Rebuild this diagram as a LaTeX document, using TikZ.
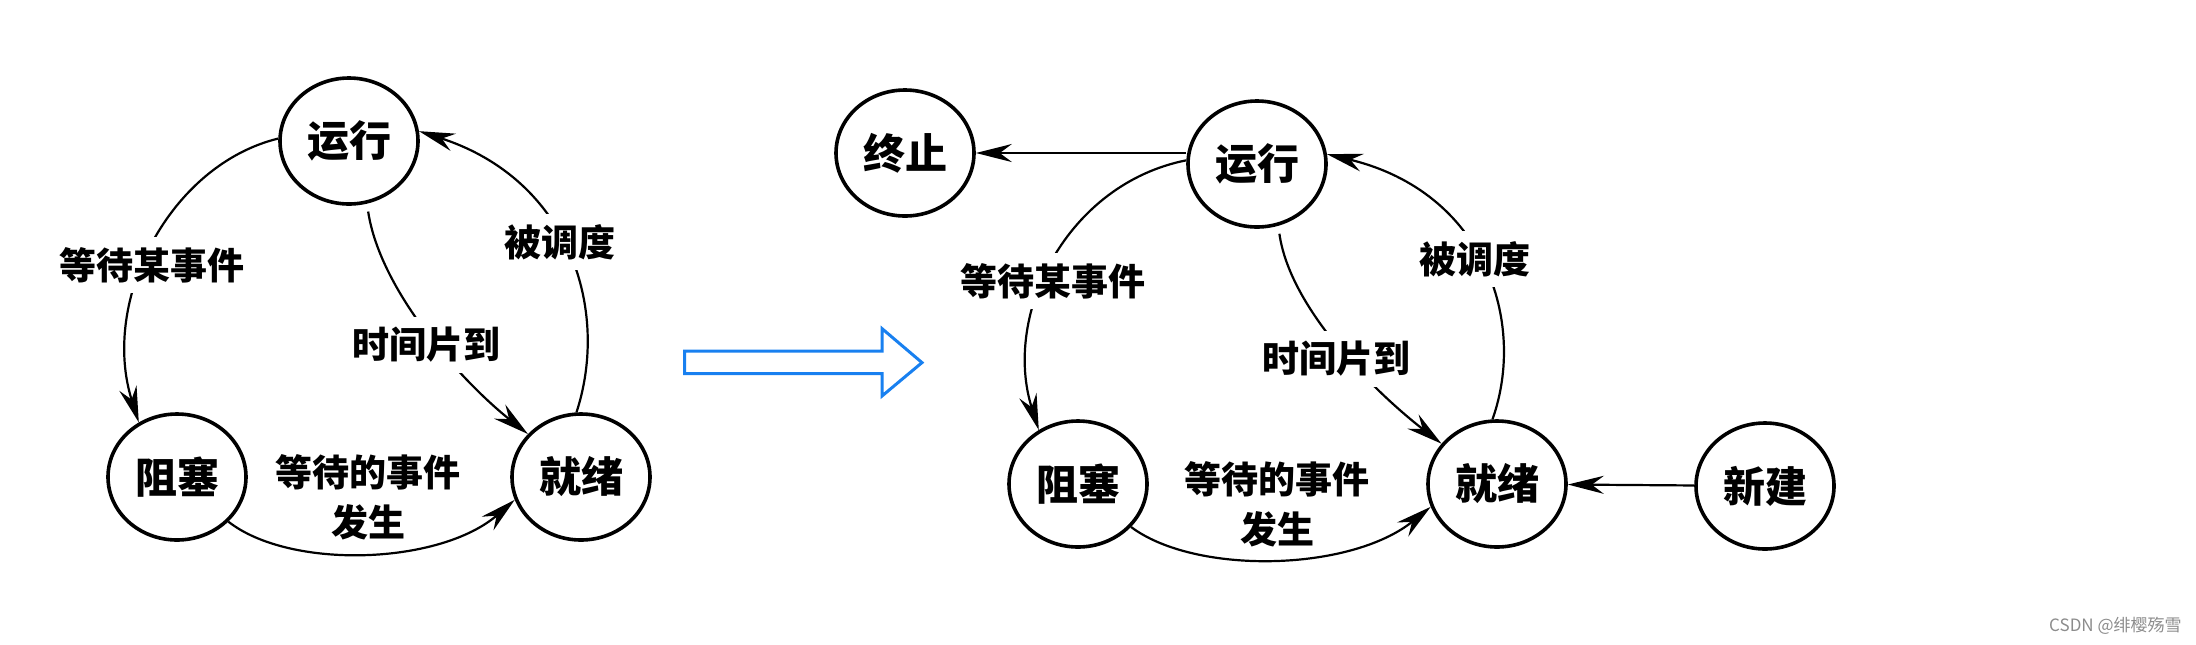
\documentclass[tikz,border=0pt]{standalone}
\usepackage{fontspec}
\newfontfamily\cjk{Noto Sans CJK SC}
\usetikzlibrary{shapes.geometric,arrows.meta}
\definecolor{arrowblue}{RGB}{24,128,240}
\definecolor{markgray}{RGB}{140,140,140}
\begin{document}
\begin{tikzpicture}[x=0.5pt,y=-0.5pt,
  state/.style={ellipse,draw,line width=1.8pt,minimum width=69pt,minimum height=63pt,inner sep=0pt,font=\cjk\bfseries\fontsize{21}{25}\selectfont},
  lbl/.style={font=\cjk\bfseries\fontsize{18.5}{25}\selectfont,inner sep=0pt,align=center},
  gap/.style={fill=white,inner xsep=2pt,inner ysep=5pt},
  conn/.style={line width=1.1pt,-{Stealth[length=18pt,width=9pt,inset=6pt]}},
  bigarrow/.style={draw=arrowblue,line width=1.5pt,line join=miter}
]
\useasboundingbox (0,0) rectangle (2196,644);

% ---------- left diagram ----------
\node[state] (R1) at (349,141) {运行};
\node[state] (B1) at (177,477) {阻塞};
\node[state] (J1) at (581,477) {就绪};

\draw[conn] (R1.178) .. controls (170,165) and (100,300) .. (B1.125);
\draw[conn] (B1.-41) .. controls (290,570) and (440,565) .. (J1.199);
\draw[conn] (J1.94) .. controls (610,310) and (570,180) .. (R1.8);
\draw[conn,shorten <=4pt] (R1.-74) .. controls (380,290) and (460,380) .. (J1.141);

\node[lbl,gap] (L1a) at (152,265) {等待某事件};
\node[lbl,gap] (L1b) at (560,242) {被调度};
\node[lbl,gap] (L1c) at (426,345) {时间片到};
\node[lbl] (L1d) at (368,497) {等待的事件\\发生};

% ---------- big arrow ----------
\coordinate (A0) at (684.7,351);
\draw[bigarrow] (A0) -- (882,351) -- (882,328.6) -- (922,362.6) -- (882,396) -- (882,373.7) -- (684.7,373.7) -- cycle;

% ---------- right diagram ----------
\node[state] (T2) at (905,153) {终止};
\node[state] (R2) at (1257,164) {运行};
\node[state] (B2) at (1078,484) {阻塞};
\node[state] (J2) at (1497,484) {就绪};
\node[state] (N2) at (1765,486) {新建};

\draw[conn] (T2.east -| R2.west) -- (T2.east);
\draw[conn] (R2.177) .. controls (1067,184) and (1002,314) .. (B2.126);
\draw[conn] (B2.-39) .. controls (1195,575) and (1350,572) .. (J2.199);
\draw[conn] (J2.94) .. controls (1527,322) and (1485,192) .. (R2.8);
\draw[conn,shorten <=4pt] (R2.-71) .. controls (1290,309) and (1375,392) .. (J2.144);
\draw[conn] (N2) -- (J2);

\node[lbl,gap] (L2a) at (1053,281) {等待某事件};
\node[lbl,gap] (L2b) at (1475,259) {被调度};
\node[lbl,gap] (L2c) at (1336,359) {时间片到};
\node[lbl] (L2d) at (1277,504) {等待的事件\\发生};

% ---------- watermark ----------
\node[anchor=east,inner sep=0pt,text=markgray,font=\cjk\fontsize{8.5}{10}\selectfont] (WM) at (2182,626) {CSDN @绯樱殇雪};
\end{tikzpicture}
\end{document}
